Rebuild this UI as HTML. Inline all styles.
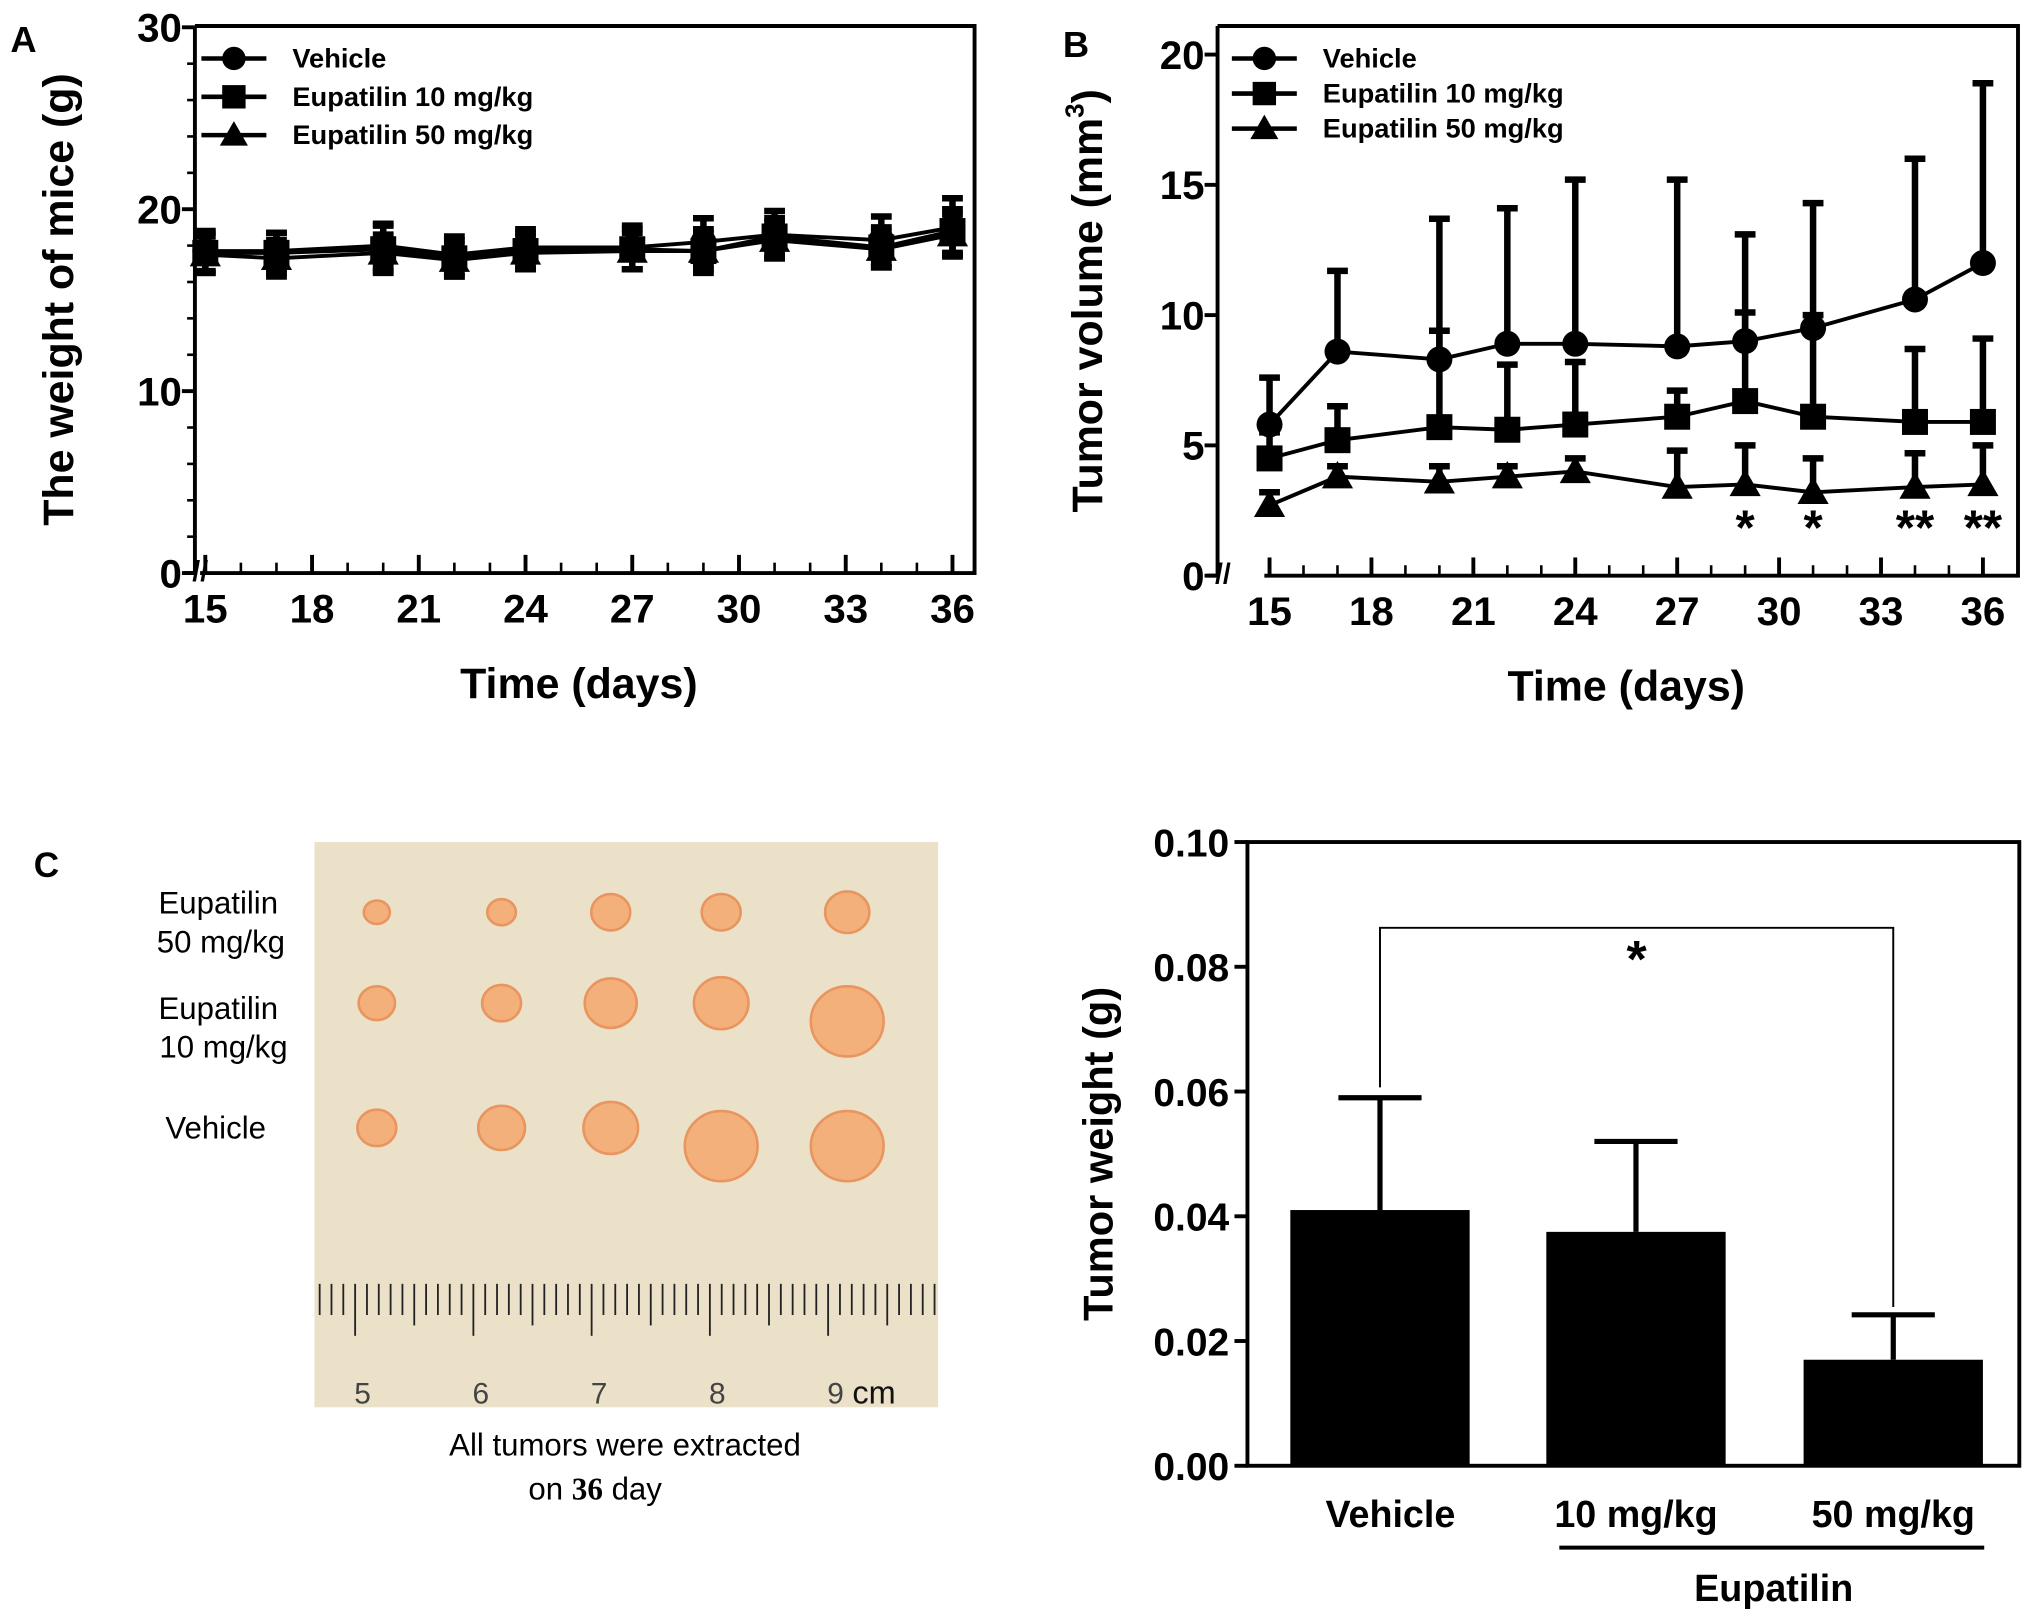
<!DOCTYPE html>
<html><head><meta charset="utf-8"><style>
html,body{margin:0;padding:0;background:#fff}
svg{display:block}
text{font-family:"Liberation Sans",Arial,sans-serif}
.b{font-weight:bold}
</style></head><body>
<svg id="fig" xmlns="http://www.w3.org/2000/svg" width="2031" height="1623" viewBox="0 0 1563 1249" preserveAspectRatio="none">
<rect x="0" y="0" width="1563" height="1249" fill="#fff"/>
<g id="gA"></g>
<g id="gB"></g>
<g id="gC"></g>
<g id="gD"></g>
</svg>
<script>
const days=[15,17,20,22,24,27,29,31,34,36];
const seriesNames=["Vehicle","Eupatilin 10 mg/kg","Eupatilin 50 mg/kg"];
const weightVehicle=[17.7,17.7,18.0,17.5,17.9,17.9,18.2,18.6,18.3,19.0];
const weight10=[17.6,17.6,17.8,17.3,17.7,17.8,17.7,18.5,17.9,18.8];
const weight50=[17.5,17.3,17.6,17.2,17.6,17.7,17.7,18.3,17.8,18.6];
const weightErrVehicle=[1.1,1.0,1.2,1.0,1.0,1.2,1.3,1.3,1.3,1.6];
const weightErr10=[1.1,1.1,1.3,1.0,1.0,1.1,1.2,1.0,1.1,1.2];
const weightErr50=[1.0,1.0,1.0,0.9,0.9,1.0,1.0,1.0,1.0,1.1];
const volVehicle=[5.8,8.6,8.3,8.9,8.9,8.8,9.0,9.5,10.6,12.0];
const vol10=[4.5,5.2,5.7,5.6,5.8,6.1,6.7,6.1,5.9,5.9];
const vol50=[2.7,3.8,3.6,3.8,4.0,3.4,3.5,3.2,3.4,3.5];
const volErrVehicle=[1.8,3.1,5.4,5.2,6.3,6.4,4.1,4.8,5.4,6.9];
const volErr10=[1.0,1.3,3.7,2.5,2.4,1.0,3.4,3.9,2.8,3.2];
const volErr50=[0.5,0.4,0.6,0.4,0.5,1.4,1.5,1.3,1.3,1.5];
const sigDays=[29,31,34,36];
const sigLabels=["*","*","**","**"];
const xTickLabels=[15,18,21,24,27,30,33,36];
const weightTicks=[0,10,20,30];
const volTicks=[0,5,10,15,20];
const barCats=["Vehicle","10 mg/kg","50 mg/kg"];
const barMeans=[0.041,0.0375,0.017];
const barErrs=[0.018,0.0145,0.0072];
const barTicks=[0,0.02,0.04,0.06,0.08,0.10];

const NS="http://www.w3.org/2000/svg";
function mk(p,tag,at,txt){const e=document.createElementNS(NS,tag);for(const k in at)e.setAttribute(k,at[k]);if(txt!==undefined)e.textContent=txt;p.appendChild(e);return e;}
function marker(g,type,x,y,s){
 if(type===0)return mk(g,'circle',{cx:x,cy:y,r:s,fill:'#000'});
 if(type===1)return mk(g,'rect',{x:x-s,y:y-s,width:2*s,height:2*s,fill:'#000'});
 return mk(g,'polygon',{points:`${x},${y-s*1.2} ${x-s*1.2},${y+s*0.9} ${x+s*1.2},${y+s*0.9}`,fill:'#000'});
}
function lineChart(g,o){
 const X=d=>o.x0+(d-15)*(o.x1-o.x0)/21;
 const Y=v=>o.yb+(v)*(o.yt-o.yb)/o.ymax;
 mk(g,'text',{x:o.lx,y:o.ly,'font-size':28,class:'b'},o.letter);
 const fr=mk(g,'path',{d:`M${o.left},${o.top} H${o.right} V${o.yb} H${X(15)-4} M${o.left},${o.top} V${o.yb}`,stroke:'#000','stroke-width':3,fill:'none'});
 
 mk(g,'path',{d:`M${o.left-8},${o.yb} H${o.left}`,stroke:'#000','stroke-width':3});
 mk(g,'text',{x:o.left-2,y:o.yb+6,'font-size':22,class:'b'},'//');
 o.yticks.forEach(t=>{mk(g,'line',{x1:o.left-10,x2:o.left,y1:Y(t),y2:Y(t),stroke:'#000','stroke-width':3});
  const tl=mk(g,'text',{x:o.left-10,y:Y(t)+11,'font-size':31,'text-anchor':'end',class:'b'},t);});
 if(o.minorY){for(let v=0;v<=o.ymax;v+=o.minorY){mk(g,'line',{x1:o.left-6,x2:o.left,y1:Y(v),y2:Y(v),stroke:'#000','stroke-width':2});}}
 for(let d=15;d<=36;d++){const maj=(d%3===0);mk(g,'line',{x1:X(d),x2:X(d),y1:o.yb,y2:o.yb-(maj?14:8),stroke:'#000','stroke-width':maj?3:2});}
 xTickLabels.forEach(d=>{const tl=mk(g,'text',{x:X(d),y:o.yb+38,'font-size':31,'text-anchor':'middle',class:'b'},d);});
 const xt=mk(g,'text',{x:(o.x0+o.x1)/2,y:o.yb+96,'font-size':33,'text-anchor':'middle',class:'b'},'Time (days)');
 
 const yt=mk(g,'text',{x:0,y:0,'font-size':33,'text-anchor':'middle',class:'b',transform:`translate(${o.ytx},${(o.top+o.yb)/2}) rotate(-90)`});
 yt.innerHTML=o.ytitle;
 o.series.forEach((s,si)=>{
  const sg=mk(g,'g',{});
  s.v.forEach((v,i)=>{const x=X(days[i]);
   const eb=mk(sg,'path',{d:`M${x},${Y(v+s.e[i])} V${Y(o.both?v-s.e[i]:v)} M${x-8},${Y(v+s.e[i])} H${x+8}`+(o.both?` M${x-8},${Y(v-s.e[i])} H${x+8}`:''),stroke:'#000','stroke-width':5,fill:'none'});
   });
  mk(sg,'polyline',{points:s.v.map((v,i)=>X(days[i])+','+Y(v)).join(' '),stroke:'#000','stroke-width':3,fill:'none'});
  s.v.forEach((v,i)=>{const m=marker(sg,si,X(days[i]),Y(v),o.ms);});
 });
 seriesNames.forEach((n,i)=>{const y=o.legY+i*o.legDy;const lg=mk(g,'g',{});
  mk(lg,'line',{x1:o.legX,x2:o.legX+50,y1:y,y2:y,stroke:'#000','stroke-width':3.5});marker(lg,i,o.legX+25,y,9);
  mk(lg,'text',{x:o.legX+70,y:y+7,'font-size':21,class:'b'},n);});
 if(o.sig){sigDays.forEach((d,i)=>{const t=mk(g,'text',{x:X(d),y:Y(1.2),'font-size':38,'text-anchor':'middle',class:'b'},sigLabels[i]);});}
}
lineChart(document.getElementById('gA'),{letter:'A',lx:8,ly:40,left:150,right:750,top:20,yb:441,x0:158,x1:733,yt:21,ymax:30,yticks:weightTicks,minorY:2,both:true,ms:10,
 ytx:56,ytitle:'The weight of mice (g)',legX:155,legY:45,legDy:29.5,
 series:[{v:weightVehicle,e:weightErrVehicle},{v:weight10,e:weightErr10},{v:weight50,e:weightErr50}]});
lineChart(document.getElementById('gB'),{letter:'B',lx:818,ly:44,left:937,right:1553,top:20,yb:443,x0:977,x1:1526,yt:42,ymax:20,yticks:volTicks,minorY:0,both:false,ms:10,
 ytx:848,ytitle:'Tumor volume (mm<tspan font-size="20" dy="-14">3</tspan><tspan dy="14">)</tspan>',legX:948,legY:45,legDy:27,sig:true,
 series:[{v:volVehicle,e:volErrVehicle},{v:vol10,e:volErr10},{v:vol50,e:volErr50}]});

(function(){const g=document.getElementById('gC');
 mk(g,'text',{x:26,y:675,'font-size':27,class:'b'},'C');
 const ph=mk(g,'rect',{x:242,y:648,width:480,height:435,fill:'#ebe1c9'});
 for(let i=0;i<=52;i++){const x=246+i*9.1;const h=(i%10===3)?40:(i%5===3?32:24);mk(g,'line',{x1:x,x2:x,y1:988,y2:988+h,stroke:'#222','stroke-width':1.4});}
 [5,6,7,8,9].forEach((n,i)=>mk(g,'text',{x:279+i*91,y:1080,'font-size':23,'text-anchor':'middle',fill:'#444'},n));
 mk(g,'text',{x:656,y:1080,'font-size':25,fill:'#111'},'cm');
 const cols=[290,386,470,555,652];
 const rows=[[702,[9,10,14,14,16]],[772,[13,14,19,20,27]],[868,[14,17,20,27,27]]];
 rows.forEach(r=>r[1].forEach((s,i)=>{const t=mk(g,'ellipse',{cx:cols[i],cy:r[0]+(s>20?14:0),rx:s+1,ry:s,fill:'#f4b07a',stroke:'#e89560','stroke-width':2});}));
 [['Eupatilin',168,703],['50 mg/kg',170,733],['Eupatilin',168,784],['10 mg/kg',172,814],['Vehicle',166,876]].forEach(a=>mk(g,'text',{x:a[1],y:a[2],'font-size':24,'text-anchor':'middle'},a[0]));
 mk(g,'text',{x:481,y:1120,'font-size':24,'text-anchor':'middle'},'All tumors were extracted');
 const c2=mk(g,'text',{x:458,y:1154,'font-size':24,'text-anchor':'middle'});c2.innerHTML='on  <tspan font-family="Liberation Serif" font-weight="bold">36</tspan>  day';
})();

(function(){const g=document.getElementById('gD');
 const yb=1128,yt=648,L=960,R=1554;const Y=v=>yb+v*(yt-yb)/0.1;
 const bx=[993,1190,1388],bw=138;
 mk(g,'rect',{x:L,y:yt,width:R-L,height:yb-yt,fill:'none',stroke:'#000','stroke-width':3});
 barTicks.forEach(t=>{mk(g,'line',{x1:L-10,x2:L,y1:Y(t),y2:Y(t),stroke:'#000','stroke-width':3});
  const tl=mk(g,'text',{x:L-14,y:Y(t)+11,'font-size':30,'text-anchor':'end',class:'b'},t.toFixed(2));});
 barCats.forEach((c,i)=>{const cx=bx[i]+bw/2;
  const eb=mk(g,'path',{d:`M${cx},${Y(barMeans[i])} V${Y(barMeans[i]+barErrs[i])} M${cx-32},${Y(barMeans[i]+barErrs[i])} H${cx+32}`,stroke:'#000','stroke-width':4,fill:'none'});
  
  const b=mk(g,'rect',{x:bx[i],y:Y(barMeans[i]),width:bw,height:yb-Y(barMeans[i]),fill:'#000'});
  const tl=mk(g,'text',{x:cx+(i===0?8:0),y:1175,'font-size':29,'text-anchor':'middle',class:'b'},c);});
 const c0=bx[0]+bw/2,c2=bx[2]+bw/2;
 const br=mk(g,'path',{d:`M${c0},${Y(barMeans[0]+barErrs[0])-8} V714 H${c2} V${Y(barMeans[2]+barErrs[2])-6}`,stroke:'#000','stroke-width':1.5,fill:'none'});
 
 mk(g,'text',{x:(c0+c2)/2,y:752,'font-size':40,'text-anchor':'middle',class:'b'},'*');
 mk(g,'line',{x1:1200,x2:1527,y1:1191,y2:1191,stroke:'#000','stroke-width':3});
 mk(g,'text',{x:1365,y:1232,'font-size':29,'text-anchor':'middle',class:'b'},'Eupatilin');
 const yt2=mk(g,'text',{x:0,y:0,'font-size':32,'text-anchor':'middle',class:'b',transform:`translate(856,888) rotate(-90)`},'Tumor weight (g)');
 
})();
</script>
</body></html>
